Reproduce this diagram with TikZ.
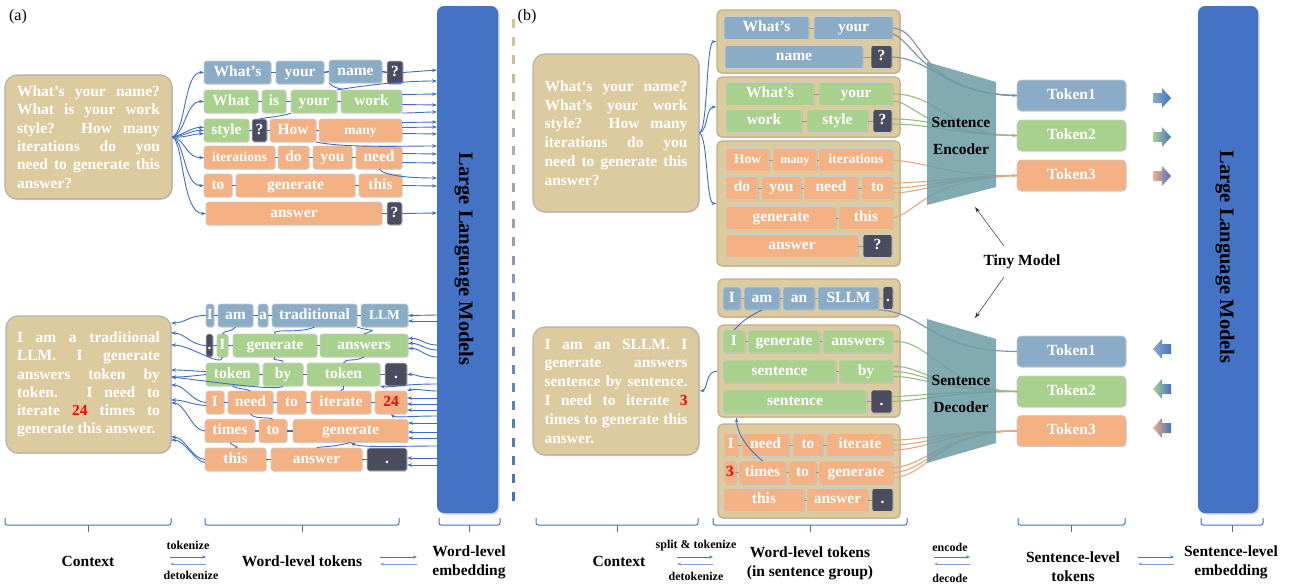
\documentclass[tikz,border=0pt]{standalone}
\usepackage{fontspec}
\setmainfont{Liberation Serif}
\usepackage{tikz}
\usetikzlibrary{arrows.meta}
\usetikzlibrary{shadows}
\definecolor{tokblue}{HTML}{8AACC6}
\definecolor{tokgreen}{HTML}{A9D18E}
\definecolor{tokorange}{HTML}{F4B183}
\definecolor{tokdark}{HTML}{4C4C60}
\definecolor{ctxtan}{HTML}{DDCBA0}
\definecolor{grpedge}{HTML}{BFAE88}
\definecolor{llmblue}{HTML}{4472C4}
\definecolor{wireblue}{HTML}{3F6DC6}
\definecolor{tinyteal}{HTML}{6F9EA6}
\definecolor{sepgold}{HTML}{D9C39A}
\newcommand{\wordfont}{\fontsize{15.5}{18}\selectfont\bfseries}
\newcommand{\smallword}{\fontsize{13.5}{16}\selectfont\bfseries}
\newcommand{\tinyword}{\fontsize{12}{14}\selectfont\bfseries}
\newcommand{\ctxfont}{\fontsize{15.5}{18.3}\selectfont\bfseries}
\newcommand{\ctxfontb}{\fontsize{15.5}{18.8}\selectfont\bfseries}
\newcommand{\capfont}{\fontsize{15.5}{19}\selectfont\bfseries}
\newcommand{\opfont}{\fontsize{12}{14}\selectfont\bfseries}
\newcommand{\llmfont}{\fontsize{20.5}{24}\selectfont\bfseries}
\tikzstyle{token}=[draw=black!20, line width=0.6pt, rounded corners=2.5pt, inner sep=0pt, outer sep=0pt,
                   minimum height=23, text height=10.5pt, text depth=3pt, text=white, font=\wordfont,
                   drop shadow={shadow xshift=0.7pt, shadow yshift=-0.7pt, opacity=0.3}]
\tikzstyle{btoken}=[token, fill=tokblue]
\tikzstyle{gtoken}=[token, fill=tokgreen]
\tikzstyle{otoken}=[token, fill=tokorange]
\tikzstyle{dtoken}=[token, fill=tokdark]
\tikzstyle{stoken}=[token, minimum width=109, minimum height=31, rounded corners=4pt]
\tikzstyle{context}=[draw=black!30, line width=1.2pt, fill=ctxtan, rounded corners=12pt, inner sep=0pt,
                     text width=143pt, align=justify, text=white, font=\ctxfont,
                     drop shadow={shadow xshift=1pt, shadow yshift=-1pt, opacity=0.3}]
\tikzstyle{sentgroup}=[draw=grpedge, line width=1.2pt, fill=ctxtan, rounded corners=5pt, inner sep=0pt,
                       drop shadow={shadow xshift=1pt, shadow yshift=-1pt, opacity=0.3}]
\tikzstyle{llm}=[fill=llmblue, rounded corners=7pt, inner sep=0pt,
                 drop shadow={shadow xshift=1.5pt, shadow yshift=-1.5pt, opacity=0.35}]
\tikzstyle{link}=[draw=wireblue, line width=1.5pt]
\tikzstyle{thread}=[draw=wireblue, line width=0.9pt]
\tikzstyle{wire}=[draw=wireblue, line width=0.9pt, -{Stealth[length=5pt, width=3.5pt]}]
\tikzstyle{softlink}=[draw=grpedge!85!black, line width=0.6pt]
\tikzstyle{bwire}=[draw=tokblue!85!black, line width=1.1pt]
\tikzstyle{gwire}=[draw=tokgreen!90!black, line width=1.1pt]
\tikzstyle{owire}=[draw=tokorange!95!black, line width=1.1pt]
\tikzstyle{caption}=[font=\capfont, align=center, inner sep=1pt]
\tikzstyle{opname}=[font=\opfont, inner sep=1pt]
\tikzstyle{oparrow}=[draw=llmblue, line width=0.7pt, -{Stealth[length=4pt, width=3pt]}]
\tikzstyle{brace}=[draw=llmblue, line width=1pt, rounded corners=2pt]
\tikzstyle{tinymodel}=[fill=tinyteal, fill opacity=0.88]
\tikzstyle{pointer}=[draw=black!80, line width=0.5pt, -{Stealth[length=6pt, width=4pt]}]

\begin{document}
\begin{tikzpicture}[x=1pt, y=-1pt]
    \useasboundingbox (0,0) rectangle (1290,587);
    % panel tags
    \node[font=\fontsize{16}{19}\selectfont] (taga) at (18,17) {(a)};
    \node[font=\fontsize{16}{19}\selectfont] (tagb) at (527,17) {(b)};

    % large language models
    \node[llm, minimum width=61, minimum height=507] (llma) at (467.5,259.5) {};
    \node[llm, minimum width=60, minimum height=507] (llmb) at (1228,259.5) {};
    \node[font=\llmfont, rotate=-90] (llmatext) at (464,259) {Large Language Models};
    \node[font=\llmfont, rotate=-90] (llmbtext) at (1225,257) {Large Language Models};

    % separator
    \foreach \i in {0,...,26} {
        \pgfmathsetmacro\mixv{100*\i/26}
        \draw[line width=3pt, color=llmblue!\mixv!sepgold] (513,19+18.2*\i) -- (513,28+18.2*\i);
    }

    % (a) contexts
    \node[context, minimum width=167, minimum height=124] (ctxqa) at (88.5,137)
        {What's your name?\linebreak What is your work\linebreak style? How many\linebreak iterations do you\linebreak need to generate this\linebreak answer?};
    \node[context, minimum width=165, minimum height=137] (ctxaa) at (88.5,384.5)
        {I am a traditional\linebreak LLM. I generate\linebreak answers token by\linebreak token. I need to\linebreak iterate {\color{red}24} times to\linebreak generate this answer.};

    % (a) question tokens
    \node[btoken, minimum width=67] (qa11) at (237.5,72.5) {What's};
    \node[btoken, minimum width=48] (qa12) at (300,72.5) {your};
    \node[btoken, minimum width=53] (qa13) at (355.5,71.5) {name};
    \node[dtoken, minimum width=16] (qa14) at (395,72.5) {?};
    \node[gtoken, minimum width=54] (qa21) at (231,101.5) {What};
    \node[gtoken, minimum width=24] (qa22) at (274,101.5) {is};
    \node[gtoken, minimum width=46] (qa23) at (314,101.5) {your};
    \node[gtoken, minimum width=61] (qa24) at (371.5,101.5) {work};
    \node[gtoken, minimum width=45] (qa31) at (226.5,130.5) {style};
    \node[dtoken, minimum width=15] (qa32) at (259.5,130.5) {?};
    \node[otoken, minimum width=46] (qa33) at (293,130.5) {How};
    \node[otoken, minimum width=83, font=\smallword] (qa34) at (360.5,130.5) {many};
    \node[otoken, minimum width=71, font=\smallword] (qa41) at (239.5,157.5) {iterations};
    \node[otoken, minimum width=31] (qa42) at (293.5,157.5) {do};
    \node[otoken, minimum width=39] (qa43) at (332.5,157.5) {you};
    \node[otoken, minimum width=46] (qa44) at (379,157.5) {need};
    \node[otoken, minimum width=28] (qa51) at (218,185.5) {to};
    \node[otoken, minimum width=119] (qa52) at (295.5,185.5) {generate};
    \node[otoken, minimum width=43] (qa53) at (380.5,185.5) {this};
    \node[otoken, minimum width=176] (qa61) at (294,213.5) {answer};
    \node[dtoken, minimum width=15] (qa62) at (394.5,213.5) {?};

    % (a) answer tokens
    \node[btoken, minimum width=8] (aa11) at (210,315.5) {I};
    \node[btoken, minimum width=35] (aa12) at (235.5,315.5) {am};
    \node[btoken, minimum width=10] (aa13) at (263,315.5) {a};
    \node[btoken, minimum width=85] (aa14) at (314.5,315.5) {traditional};
    \node[btoken, minimum width=47, font=\smallword] (aa15) at (384.5,315.5) {LLM};
    \node[dtoken, minimum width=7] (aa21) at (209.5,345.5) {.};
    \node[gtoken, minimum width=11] (aa22) at (222.5,345.5) {I};
    \node[gtoken, minimum width=84] (aa23) at (275,345.5) {generate};
    \node[gtoken, minimum width=88] (aa24) at (364,345.5) {answers};
    \node[gtoken, minimum width=53] (aa31) at (232.5,374.5) {token};
    \node[gtoken, minimum width=40] (aa32) at (283,374.5) {by};
    \node[gtoken, minimum width=73] (aa33) at (343.5,374.5) {token};
    \node[dtoken, minimum width=22] (aa34) at (396,374.5) {.};
    \node[otoken, minimum width=18] (aa41) at (215,402.5) {I};
    \node[otoken, minimum width=45] (aa42) at (250.5,402.5) {need};
    \node[otoken, minimum width=29] (aa43) at (291.5,402.5) {to};
    \node[otoken, minimum width=60] (aa44) at (341,402.5) {iterate};
    \node[otoken, minimum width=32, text=red] (aa45) at (391,402.5) {24};
    \node[otoken, minimum width=50] (aa51) at (230,431) {times};
    \node[otoken, minimum width=28] (aa52) at (273,431) {to};
    \node[otoken, minimum width=115] (aa53) at (350.5,431) {generate};
    \node[otoken, minimum width=61] (aa61) at (235.5,459.5) {this};
    \node[otoken, minimum width=91] (aa62) at (316.5,459.5) {answer};
    \node[dtoken, minimum width=40] (aa63) at (387,459.5) {.};

    % (a) ports on the bar and on the context
    \foreach \n/\y in {1/70,2/81,3/94,4/105,5/112,6/122,7/127,8/134,9/146,10/154,11/163,12/178,13/186,14/213}
        \coordinate (pa\n) at (437,\y);
    \foreach \n/\y in {1/315,2/321,3/345,4/350,5/357,6/378,7/384,8/391,9/398,10/404,11/410,12/416,13/423,14/432,15/438,16/446,17/458,18/465}
        \coordinate (pb\n) at (437,\y);
    \foreach \n/\y in {1/323,2/333,3/345,4/370,5/377,6/385,7/400,8/403,9/437,10/440}
        \coordinate (pc\n) at (171,\y);

    % (a) word links
    \foreach \l/\r in {qa11/qa12, qa12/qa13, qa13/qa14, qa21/qa22, qa22/qa23, qa23/qa24, qa31/qa32, qa32/qa33,
                       qa33/qa34, qa41/qa42, qa42/qa43, qa43/qa44, qa51/qa52, qa52/qa53, qa61/qa62,
                       aa11/aa12, aa12/aa13, aa13/aa14, aa14/aa15, aa21/aa22, aa22/aa23, aa23/aa24,
                       aa31/aa32, aa32/aa33, aa33/aa34, aa41/aa42, aa42/aa43, aa43/aa44, aa44/aa45,
                       aa51/aa52, aa52/aa53, aa61/aa62, aa62/aa63}
        \draw[link] (\l.east) -- (\r.west);

    % (a) tokenize
    \draw[wire] (ctxqa.east) .. controls (186,130) and (184,72) .. (qa11.west);
    \draw[wire] (ctxqa.east) .. controls (186,132) and (186,101) .. (qa21.west);
    \draw[wire] (ctxqa.east) .. controls (185,134) and (192,127) .. ([yshift=3pt]qa31.west);
    \draw[wire] (ctxqa.east) .. controls (185,136) and (192,130) .. (qa31.west);
    \draw[wire] (ctxqa.east) .. controls (185,138) and (192,134) .. ([yshift=-3pt]qa31.west);
    \draw[wire] (ctxqa.east) .. controls (186,140) and (186,158) .. (qa41.west);
    \draw[wire] (ctxqa.east) .. controls (185,142) and (184,186) .. (qa51.west);
    \draw[wire] (ctxqa.east) .. controls (184,144) and (182,214) .. (qa61.west);
    \draw[thread] (qa32.north) .. controls (262,118) and (285,116) .. (qa23.south west);
    \draw[thread] (qa13.south west) .. controls (335,90) and (345,88) .. (qa24.north west);

    % (a) embedding
    \draw[wire] (qa14.east) -- (pa1);
    \draw[wire] (qa23.north east) .. controls (360,86) and (400,81) .. (pa2);
    \draw[wire] ([yshift=7pt]qa24.east) -- (pa3);
    \draw[wire] ([yshift=-3pt]qa24.east) -- (pa4);
    \draw[wire] (qa24.south east) .. controls (415,113) and (425,112) .. (pa5);
    \draw[wire] ([yshift=8pt]qa34.east) -- (pa6);
    \draw[wire] ([yshift=3pt]qa34.east) -- (pa7);
    \draw[wire] ([yshift=-3pt]qa34.east) -- (pa8);
    \draw[wire] (qa33.south east) .. controls (345,148) and (400,146) .. (pa9);
    \draw[wire] ([yshift=4pt]qa44.east) -- (pa10);
    \draw[wire] ([yshift=-5pt]qa44.east) -- (pa11);
    \draw[wire] (qa44.south) .. controls (385,176) and (410,178) .. (pa12);
    \draw[wire] (qa53.east) -- (pa13);
    \draw[wire] (qa62.east) -- (pa14);

    % (a) generation
    \draw[wire] (pb1) -- (aa15.east);
    \draw[wire] (pb2) -- ([yshift=-5.5pt]aa15.east);
    \draw[wire] (pb3) .. controls (425,345) and (420,338) .. ([yshift=7pt]aa24.east);
    \draw[wire] (pb4) .. controls (425,350) and (420,343) .. ([yshift=2pt]aa24.east);
    \draw[wire] (pb5) .. controls (425,357) and (420,348) .. ([yshift=-3pt]aa24.east);
    \draw[wire] (pb6) .. controls (420,378) and (415,374) .. (aa34.east);
    \draw[wire] (pb7) .. controls (400,384) and (390,388) .. (aa33.south east);
    \draw[wire] (pb8) .. controls (425,391) and (415,388) .. (aa45.north east);
    \draw[wire] (pb9) -- ([yshift=4.5pt]aa45.east);
    \draw[wire] (pb10) -- ([yshift=-1.5pt]aa45.east);
    \draw[wire] (pb11) -- ([yshift=-7.5pt]aa45.east);
    \draw[wire] (pb12) .. controls (410,416) and (395,418) .. (aa45.south);
    \draw[wire] (pb13) -- ([yshift=8pt]aa53.east);
    \draw[wire] (pb14) -- ([yshift=-1pt]aa53.east);
    \draw[wire] (pb15) -- ([yshift=-7pt]aa53.east);
    \draw[wire] (pb16) .. controls (400,446) and (360,448) .. (aa53.south);
    \draw[wire] (pb17) -- ([yshift=1.5pt]aa63.east);
    \draw[wire] (pb18) -- ([yshift=-5.5pt]aa63.east);

    % (a) detokenize
    \draw[wire] (aa11.west) .. controls (190,315) and (185,323) .. (pc1);
    \draw[wire] (aa21.west) .. controls (190,345) and (185,333) .. (pc2);
    \draw[wire] (aa22.south) .. controls (222,368) and (190,345) .. (pc3);
    \draw[wire] ([yshift=3pt]aa31.west) .. controls (192,371) and (185,370) .. (pc4);
    \draw[wire] (aa31.west) .. controls (192,376) and (185,377) .. (pc5);
    \draw[wire] (aa32.south) .. controls (280,392) and (200,380) .. (pc5);
    \draw[wire] (aa41.west) .. controls (192,402) and (185,385) .. (pc6);
    \draw[wire] ([yshift=-3pt]aa41.west) .. controls (192,405) and (185,400) .. (pc7);
    \draw[wire] (aa51.west) .. controls (192,431) and (185,403) .. (pc8);
    \draw[wire] (aa61.west) .. controls (192,459) and (185,437) .. (pc9);
    \draw[wire] ([yshift=-3pt]aa61.west) .. controls (195,462) and (185,440) .. (pc10);
    \draw[thread] (aa14.south) .. controls (300,334) and (270,328) .. (aa23.north);
    \draw[thread] (aa14.south east) .. controls (370,332) and (380,328) .. (aa24.north);
    \draw[thread] (aa12.south) .. controls (230,333) and (224,330) .. (aa22.north);
    \draw[thread] (aa23.south) .. controls (270,362) and (285,358) .. (aa32.north);
    \draw[thread] (aa24.south) .. controls (355,362) and (345,358) .. (aa33.north);
    \draw[thread] (aa33.south) .. controls (345,392) and (340,388) .. (aa44.north);
    \draw[thread] (aa31.south) .. controls (240,390) and (245,388) .. (aa42.north);
    \draw[thread] (aa42.south) .. controls (255,420) and (268,416) .. (aa52.north);
    \draw[thread] (aa53.south) .. controls (330,448) and (320,446) .. (aa62.north);
    \draw[thread] (aa51.south) .. controls (235,448) and (240,446) .. (aa61.north);

    % (b) contexts
    \node[context, minimum width=166, minimum height=158, font=\ctxfontb] (ctxqb) at (616,133)
        {What‘s your name?\linebreak What’s your work\linebreak style? How many\linebreak iterations do you\linebreak need to generate this\linebreak answer?};
    \node[context, minimum width=166, minimum height=128, font=\ctxfontb] (ctxab) at (616,391)
        {I am an SLLM. I\linebreak generate answers\linebreak sentence by sentence.\linebreak I need to iterate {\color{red}3}\linebreak times to generate this\linebreak answer.};

    % (b) sentence groups
    \node[sentgroup, minimum width=183, minimum height=63] (qg1) at (808.5,41.5) {};
    \node[sentgroup, minimum width=183, minimum height=60] (qg2) at (808.5,107) {};
    \node[sentgroup, minimum width=183, minimum height=125] (qg3) at (808.5,203.5) {};
    \node[sentgroup, minimum width=182, minimum height=38] (ag1) at (809,298) {};
    \node[sentgroup, minimum width=182, minimum height=92] (ag2) at (809,371) {};
    \node[sentgroup, minimum width=182, minimum height=94] (ag3) at (809,471) {};

    \node[btoken, minimum width=85] (qb1a) at (766.5,28) {What's};
    \node[btoken, minimum width=79] (qb1b) at (853.5,28) {your};
    \node[btoken, minimum width=138] (qb1c) at (794,57) {name};
    \node[dtoken, minimum width=21] (qb1d) at (881.5,57) {?};
    \node[gtoken, minimum width=88] (qb2a) at (770,94) {What's};
    \node[gtoken, minimum width=74] (qb2b) at (856,94) {your};
    \node[gtoken, minimum width=76] (qb2c) at (764,121) {work};
    \node[gtoken, minimum width=61] (qb2d) at (837.5,121) {style};
    \node[dtoken, minimum width=19] (qb2e) at (882.5,121) {?};
    \node[otoken, minimum width=43, font=\smallword] (qb3a) at (747.5,160) {How};
    \node[otoken, minimum width=44, font=\tinyword] (qb3b) at (795,160) {many};
    \node[otoken, minimum width=74, font=\smallword] (qb3c) at (856,160) {iterations};
    \node[otoken, minimum width=32] (qb3d) at (742,188) {do};
    \node[otoken, minimum width=39] (qb3e) at (781.5,188) {you};
    \node[otoken, minimum width=54] (qb3f) at (831,188) {need};
    \node[otoken, minimum width=31] (qb3g) at (877.5,188) {to};
    \node[otoken, minimum width=110] (qb3h) at (781,218) {generate};
    \node[otoken, minimum width=54] (qb3i) at (866,218) {this};
    \node[otoken, minimum width=132] (qb3j) at (792,246) {answer};
    \node[dtoken, minimum width=29] (qb3k) at (877.5,246) {?};

    \node[btoken, minimum width=18] (ab1a) at (732,298.5) {I};
    \node[btoken, minimum width=36] (ab1b) at (762,298.5) {am};
    \node[btoken, minimum width=32] (ab1c) at (799,298.5) {an};
    \node[btoken, minimum width=61] (ab1d) at (848.5,298.5) {SLLM};
    \node[dtoken, minimum width=10] (ab1e) at (888,298) {.};
    \node[gtoken, minimum width=22] (ab2a) at (734,341.5) {I};
    \node[gtoken, minimum width=72] (ab2b) at (784,341.5) {generate};
    \node[gtoken, minimum width=70] (ab2c) at (858,341.5) {answers};
    \node[gtoken, minimum width=113] (ab2d) at (779.5,371.5) {sentence};
    \node[gtoken, minimum width=54] (ab2e) at (866,371.5) {by};
    \node[gtoken, minimum width=144] (ab2f) at (795,401.5) {sentence};
    \node[dtoken, minimum width=21] (ab2g) at (881.5,401.5) {.};
    \node[otoken, minimum width=14] (ab3a) at (731,445) {I};
    \node[otoken, minimum width=47] (ab3b) at (765.5,445) {need};
    \node[otoken, minimum width=30] (ab3c) at (808,445) {to};
    \node[otoken, minimum width=66] (ab3d) at (860,445) {iterate};
    \node[otoken, minimum width=12, text=red] (ab3e) at (730,472.5) {3};
    \node[otoken, minimum width=47] (ab3f) at (762.5,472.5) {times};
    \node[otoken, minimum width=27] (ab3g) at (802.5,472.5) {to};
    \node[otoken, minimum width=74] (ab3h) at (856,472.5) {generate};
    \node[otoken, minimum width=80] (ab3i) at (764,500) {this};
    \node[otoken, minimum width=61] (ab3j) at (837.5,500) {answer};
    \node[dtoken, minimum width=21] (ab3k) at (882.5,500) {.};

    \foreach \l/\r in {qb1a/qb1b, qb1c/qb1d, qb2a/qb2b, qb2c/qb2d, qb2d/qb2e, qb3a/qb3b, qb3b/qb3c,
                       qb3d/qb3e, qb3e/qb3f, qb3f/qb3g, qb3h/qb3i, qb3j/qb3k, ab1a/ab1b, ab1b/ab1c,
                       ab1c/ab1d, ab1d/ab1e, ab2a/ab2b, ab2b/ab2c, ab2d/ab2e, ab2f/ab2g, ab3a/ab3b,
                       ab3b/ab3c, ab3c/ab3d, ab3e/ab3f, ab3f/ab3g, ab3g/ab3h, ab3i/ab3j, ab3j/ab3k}
        \draw[softlink] (\l.east) -- (\r.west);

    % (b) split and detokenize
    \draw[wire] (ctxqb.east) .. controls (708,128) and (706,42) .. (qg1.west);
    \draw[wire] (ctxqb.east) .. controls (708,130) and (706,107) .. (qg2.west);
    \draw[wire] (ctxqb.east) .. controls (708,138) and (706,203) .. (qg3.west);
    \draw[wire] (ag2.west) .. controls (705,371) and (708,390) .. (ctxab.east);
    \draw[thread] (ab1b.south) .. controls (745,318) and (740,324) .. (ab2a.north);
    \draw[wire] (ab3f.north) .. controls (740,442) and (737,428) .. ([xshift=19pt]ag2.south west);

    % (b) sentence-level tokens
    \node[stoken, fill=tokblue] (tk1) at (1071.5,95.5) {Token1};
    \node[stoken, fill=tokgreen] (tk2) at (1071.5,135.5) {Token2};
    \node[stoken, fill=tokorange] (tk3) at (1071.5,175.5) {Token3};
    \node[stoken, fill=tokblue] (tk4) at (1071.5,351.5) {Token1};
    \node[stoken, fill=tokgreen] (tk5) at (1071.5,391.5) {Token2};
    \node[stoken, fill=tokorange] (tk6) at (1071.5,431) {Token3};

    % (b) encode
    \draw[bwire, -{Stealth[length=5pt, width=3.5pt]}] (qb1b.east) .. controls (925,30) and (915,92) .. (tk1.west);
    \draw[bwire] ([yshift=-6pt]qb1b.east) .. controls (912,40) and (930,95) .. (tk1.west);
    \draw[bwire] (qb1d.east) .. controls (930,58) and (950,95) .. (tk1.west);
    \draw[gwire, -{Stealth[length=5pt, width=3.5pt]}] (qb2b.east) .. controls (940,94) and (950,135) .. (tk2.west);
    \draw[gwire] ([yshift=-7pt]qb2b.east) .. controls (915,102) and (925,135) .. (tk2.west);
    \draw[gwire] ([yshift=2pt]qb2e.east) .. controls (940,119) and (960,135) .. (tk2.west);
    \draw[gwire] ([yshift=-3pt]qb2e.east) .. controls (930,124) and (960,135) .. (tk2.west);
    \draw[owire, -{Stealth[length=5pt, width=3.5pt]}] (qb3c.east) .. controls (930,163) and (950,176) .. (tk3.west);
    \draw[owire] ([yshift=5pt]qb3g.east) .. controls (930,183) and (960,176) .. (tk3.west);
    \draw[owire] (qb3g.east) .. controls (925,188) and (960,176) .. (tk3.west);
    \draw[owire] ([yshift=-5pt]qb3g.east) .. controls (920,193) and (960,176) .. (tk3.west);
    \draw[owire] (qb3i.east) .. controls (920,211) and (925,180) .. (tk3.west);

    % (b) decode
    \draw[bwire] (tk4.west) .. controls (930,351) and (925,312) .. (ab1d.south east);
    \draw[gwire, -{Stealth[length=5pt, width=3.5pt]}] (tk5.west) .. controls (950,391) and (930,341) .. (ab2c.east);
    \draw[gwire, -{Stealth[length=5pt, width=3.5pt]}] (tk5.west) .. controls (940,391) and (920,366) .. ([yshift=5pt]ab2e.east);
    \draw[gwire] (tk5.west) .. controls (940,390) and (920,371) .. (ab2e.east);
    \draw[gwire] (tk5.west) .. controls (940,390) and (920,376) .. ([yshift=-5pt]ab2e.east);
    \draw[gwire] (tk5.west) .. controls (950,391) and (920,396) .. ([yshift=5pt]ab2g.east);
    \draw[gwire] (tk5.west) .. controls (950,392) and (920,401) .. (ab2g.east);
    \draw[owire] (tk6.west) .. controls (950,431) and (925,440) .. ([yshift=5pt]ab3d.east);
    \draw[owire] (tk6.west) .. controls (950,431) and (925,445) .. (ab3d.east);
    \draw[owire] (tk6.west) .. controls (950,431) and (925,450) .. ([yshift=-5pt]ab3d.east);
    \draw[owire] (tk6.west) .. controls (945,431) and (925,467) .. ([yshift=5pt]ab3h.east);
    \draw[owire] (tk6.west) .. controls (945,431) and (925,472) .. (ab3h.east);
    \draw[owire] (tk6.west) .. controls (940,431) and (925,478) .. ([yshift=-5pt]ab3h.east);

    % tiny models
    \fill[tinymodel] (927,62) -- (996,82) -- (996,187) -- (927,205) -- cycle;
    \fill[tinymodel] (927,319) -- (996,339) -- (996,443) -- (927,463) -- cycle;
    \node[caption] (enc) at (961,136) {Sentence\\[8pt]Encoder};
    \node[caption] (dec) at (961,393.5) {Sentence\\[8pt]Decoder};
    \node[caption] (tiny) at (1022,262) {Tiny Model};
    \coordinate (tinyup) at (1004,246);
    \coordinate (tinydown) at (1004,277);
    \coordinate (encfoot) at (975,207);
    \coordinate (decfoot) at (975,318);
    \draw[pointer] (tinyup) -- (encfoot);
    \draw[pointer] (tinydown) -- (decfoot);

    % block arrows to and from the LLM
    \foreach \y/\col in {98/tokblue, 137/tokgreen, 176/tokorange}
        \shade[left color=\col, right color=llmblue] (1153,\y-5) -- (1162,\y-5) -- (1162,\y-10) -- (1171,\y)
            -- (1162,\y+10) -- (1162,\y+5) -- (1153,\y+5) -- cycle;
    \foreach \y/\col in {349/tokblue, 389/tokgreen, 428/tokorange}
        \shade[left color=\col, right color=llmblue] (1171,\y-5) -- (1162,\y-5) -- (1162,\y-10) -- (1153,\y)
            -- (1162,\y+10) -- (1162,\y+5) -- (1171,\y+5) -- cycle;

    % brackets
    \foreach \l/\r in {5/171, 205/399, 439/500, 536/698, 713/907, 1018/1125, 1201/1263} {
        \draw[brace] (\l,518) -- (\l,525) -- (\r,525) -- (\r,518);
        \draw[brace] ({(\l+\r)/2},525) -- ({(\l+\r)/2},532);
    }

    % captions
    \node[caption] (capctxa) at (88,561) {Context};
    \node[opname] (optoka) at (188,545) {tokenize};
    \node[opname] (opdetoka) at (191,575) {detokenize};
    \node[caption] (capworda) at (302,561) {Word-level tokens};
    \node[caption] (capemba) at (469,562) {Word-level\\embedding};
    \node[caption] (capctxb) at (619,561) {Context};
    \node[opname] (optokb) at (696,546) {split \& tokenize};
    \node[opname] (opdetokb) at (696,576) {detokenize};
    \node[caption] (capwordb) at (810,563) {Word-level tokens\\(in sentence group)};
    \node[opname] (openc) at (950,547) {encode};
    \node[opname] (opdec) at (950,578) {decode};
    \node[caption] (capsent) at (1073,567) {Sentence-level\\tokens};
    \node[caption] (capembb) at (1231,562) {Sentence-level\\embedding};
    \foreach \n/\l/\r in {a/170/206, b/380/417, c/677/713, d/934/970, e/1138/1174} {
        \coordinate (op\n l) at (\l,557);
        \coordinate (op\n r) at (\r,557);
        \coordinate (op\n lb) at (\l,564);
        \coordinate (op\n rb) at (\r,564);
        \draw[oparrow] (op\n l) -- (op\n r);
        \draw[oparrow, draw=llmblue!70] (op\n rb) -- (op\n lb);
    }
\end{tikzpicture}
\end{document}
